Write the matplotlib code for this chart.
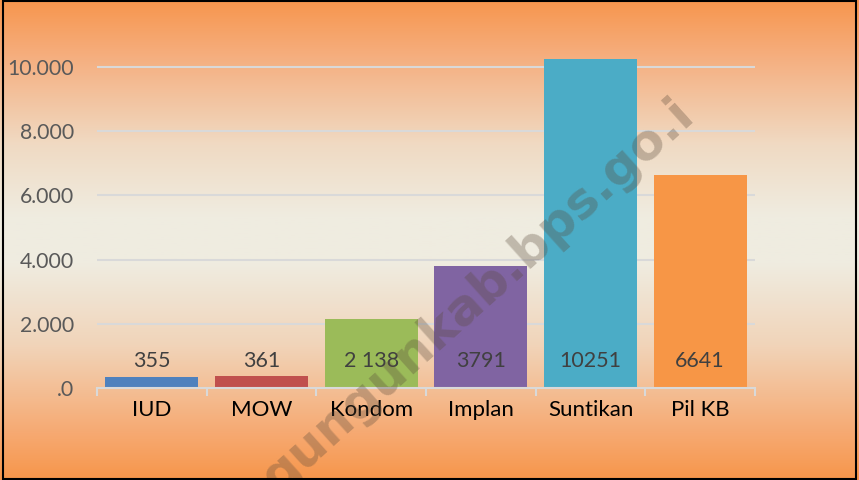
import numpy as np
import matplotlib
matplotlib.use("Agg")
import matplotlib.pyplot as plt
from matplotlib.colors import LinearSegmentedColormap
from matplotlib.patches import Rectangle

categories = ["IUD", "MOW", "Kondom", "Implan", "Suntikan", "Pil KB"]
values = [355, 361, 2138, 3791, 10251, 6641]
value_labels = ["355", "361", "2 138", "3791", "10251", "6641"]
colors = ["#4F81BD", "#C0504D", "#9BBB59", "#8064A2", "#4BACC6", "#F79646"]
yticks = [0, 2000, 4000, 6000, 8000, 10000]
ytick_labels = [".0", "2.000", "4.000", "6.000", "8.000", "10.000"]
watermark = "gungunkab.bps.go.i"

plt.rcParams["font.family"] = ["Lato", "DejaVu Sans"]

fig = plt.figure(figsize=(8.59, 4.8), dpi=100)

# background gradient
bg = fig.add_axes([0, 0, 1, 1], zorder=0)
cmap = LinearSegmentedColormap.from_list(
    "bg",
    [(0.0, (247/255, 150/255, 78/255)),
     (0.12, (245/255, 175/255, 128/255)),
     (0.30, (240/255, 218/255, 195/255)),
     (0.45, (239/255, 236/255, 224/255)),
     (0.55, (239/255, 236/255, 224/255)),
     (0.72, (241/255, 212/255, 185/255)),
     (0.90, (246/255, 170/255, 115/255)),
     (1.0, (247/255, 150/255, 75/255))])
grad = np.linspace(0, 1, 256).reshape(-1, 1)
bg.imshow(grad, aspect="auto", cmap=cmap, extent=[0, 1, 1, 0])
bg.set_xlim(0, 1)
bg.set_ylim(1, 0)
bg.axis("off")

ax = fig.add_axes([97/859, 92/480, (755-97)/859, (388-35)/480], zorder=1)
ax.patch.set_alpha(0)
x = np.arange(len(categories))
ax.bar(x, values, width=0.85, color=colors, zorder=3)
ax.set_xlim(-0.5, len(categories) - 0.5)
ax.set_ylim(0, 11000)

for xi, lab in zip(x, value_labels):
    ax.text(xi, 840, lab, ha="center", va="center", fontsize=15.5,
            color="#404040", zorder=4)

ax.set_yticks(yticks)
ax.set_yticklabels(ytick_labels, fontsize=15.3, color="#595959")
ax.yaxis.grid(True, color="#D9D9D9", linewidth=1.5, zorder=1)
ax.set_axisbelow(True)
ax.tick_params(axis="y", length=0, pad=16.5)

ax.set_xticks(x)
ax.set_xticklabels(categories, fontsize=16, color="black")
ax.set_xticks(np.arange(-0.5, len(categories)), minor=True)
ax.tick_params(axis="x", which="major", length=0, pad=9)
ax.tick_params(axis="x", which="minor", length=6, width=1.5, color="#D9D9D9",
               direction="out")
for s in ["top", "right", "left"]:
    ax.spines[s].set_visible(False)
ax.spines["bottom"].set_color("#D9D9D9")
ax.spines["bottom"].set_linewidth(1.5)
ax.spines["bottom"].set_zorder(5)

# watermark
fig.text(697/859, 1 - 118/480, watermark, rotation=42, fontsize=36,
         fontweight="bold", family="DejaVu Sans", color="#5a4a3a",
         alpha=0.32, ha="right", va="baseline", rotation_mode="anchor",
         zorder=10)

# border
fig.patches.append(Rectangle((0.003, 0.003), 0.994, 0.994, transform=fig.transFigure,
                             fill=False, edgecolor="black", linewidth=1.5, zorder=20))

fig.savefig("out.png", dpi=100)
